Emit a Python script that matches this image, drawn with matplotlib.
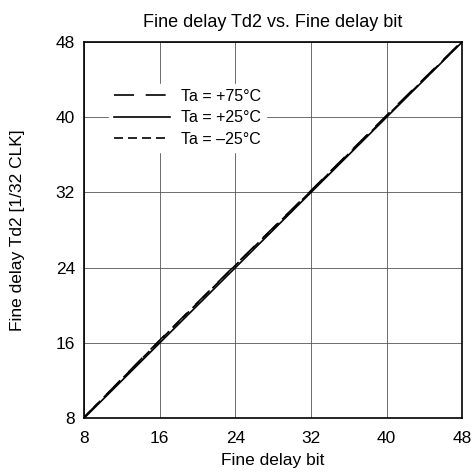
import matplotlib.pyplot as plt
import numpy as np

plt.rcParams['font.family'] = ['Liberation Sans', 'DejaVu Sans']

bits = [8, 16, 24, 32, 40, 48]
td2_p75 = [8.1, 16.3, 24.3, 32.2, 40.2, 48.1]
td2_p25 = [8.0, 16.0, 24.0, 32.0, 40.0, 48.0]
td2_m25 = [8.1, 16.25, 24.25, 32.15, 40.1, 48.05]
ticks = [8, 16, 24, 32, 40, 48]

fig = plt.figure(figsize=(4.75, 4.72), dpi=100)
ax = fig.add_axes([0.177, 0.114, 0.796, 0.797])

ax.plot(bits, td2_p75, color='black', lw=1.2, dashes=(12, 7), label='Ta = +75°C')
ax.plot(bits, td2_p25, color='black', lw=1.2, label='Ta = +25°C')
ax.plot(bits, td2_m25, color='black', lw=1.2, dashes=(5.4, 3), label='Ta = \u201325°C')

ax.set_xlim(8, 48)
ax.set_ylim(8, 48)
ax.set_xticks(ticks)
ax.set_yticks(ticks)
ax.grid(True, color='#555555', lw=0.6)
ax.tick_params(axis='x', length=0, labelsize=12.5, pad=9)
ax.tick_params(axis='y', length=0, labelsize=12.5, pad=6.5)
for s in ax.spines.values():
    s.set_linewidth(1.2)

ax.set_title('Fine delay Td2 vs. Fine delay bit', fontsize=13, pad=11)
ax.set_xlabel('Fine delay bit', fontsize=12.5, labelpad=5)
ax.set_ylabel('Fine delay Td2 [1/32 CLK]', fontsize=12.5, labelpad=22)

leg = ax.legend(loc='upper left', bbox_to_anchor=(0.045, 0.91), frameon=True,
                fontsize=11.5, handlelength=3.5, handletextpad=0.7, borderpad=0.3,
                labelspacing=0.42, fancybox=False)
leg.get_frame().set_edgecolor('white')
leg.get_frame().set_alpha(1)

fig.savefig('out.png', dpi=100)
